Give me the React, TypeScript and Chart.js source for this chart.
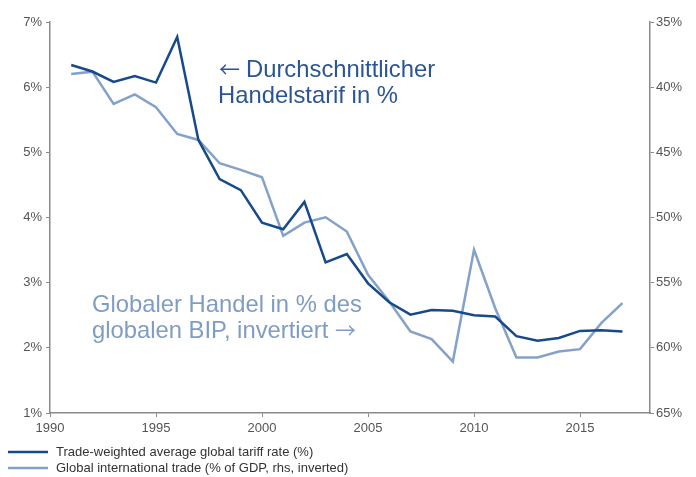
import React, { useEffect, useRef } from "react";
import { Chart, registerables } from "chart.js";

Chart.register(...registerables);

const years = [1991, 1992, 1993, 1994, 1995, 1996, 1997, 1998, 1999, 2000, 2001, 2002, 2003, 2004, 2005, 2006, 2007, 2008, 2009, 2010, 2011, 2012, 2013, 2014, 2015, 2016, 2017];
const tariffRate = [6.34, 6.24, 6.08, 6.17, 6.07, 6.77, 5.19, 4.59, 4.42, 3.92, 3.82, 4.24, 3.31, 3.44, 2.99, 2.7, 2.51, 2.58, 2.57, 2.5, 2.48, 2.18, 2.11, 2.15, 2.26, 2.27, 2.25];
const tradeShare = [38.99, 38.81, 41.29, 40.55, 41.54, 43.59, 44.05, 45.84, 46.35, 46.91, 51.41, 50.39, 49.98, 51.08, 54.4, 56.45, 58.75, 59.33, 61.05, 52.48, 56.96, 60.74, 60.74, 60.28, 60.1, 58.11, 56.57];
const seriesLabels = ["Trade-weighted average global tariff rate (%)", "Global international trade (% of GDP, rhs, inverted)"];
const tariffNote = ["Durchschnittlicher", "Handelstarif in %"];
const tradeNote = ["Globaler Handel in % des", "globalen BIP, invertiert"];
const LEFT_ARROW = "\u2190";
const RIGHT_ARROW = "\u2192";

const DARK = "#174a8b";
const LIGHT = "#84a2c9";
const DARK_TEXT = "#2b5592";
const LIGHT_TEXT = "#7f9cc5";
const FONT = "'Liberation Sans', Arial, sans-serif";
const ARROW_FONT = "'Noto Sans CJK SC', 'DejaVu Sans', sans-serif";

export default function App() {
  const ref = useRef<HTMLCanvasElement>(null);
  useEffect(() => {
    if (!ref.current) return;
    const overlay = {
      id: "overlay",
      beforeDatasetsDraw(chart: any) {
        const ctx = chart.ctx;
        ctx.save();
        ctx.textAlign = "left";
        ctx.textBaseline = "alphabetic";
        const main = `23.8px ${FONT}`;
        const arrowFont = `21px ${ARROW_FONT}`;
        // tariff note
        ctx.fillStyle = DARK_TEXT;
        ctx.font = arrowFont;
        ctx.fillText(LEFT_ARROW, 219, 77);
        ctx.font = main;
        ctx.fillText(tariffNote[0], 246, 77);
        ctx.fillText(tariffNote[1], 218, 103);
        // trade note
        ctx.fillStyle = LIGHT_TEXT;
        ctx.fillText(tradeNote[0], 92, 312);
        ctx.fillText(tradeNote[1], 92, 338);
        const w = ctx.measureText(tradeNote[1] + " ").width;
        ctx.font = arrowFont;
        ctx.fillText(RIGHT_ARROW, 92 + w, 338);
        ctx.restore();
      },
      afterDraw(chart: any) {
        const ctx = chart.ctx;
        ctx.save();
        ctx.font = `13px ${FONT}`;
        ctx.textBaseline = "middle";
        ctx.textAlign = "left";
        const rows = [
          { c: DARK, y: 452, t: seriesLabels[0] },
          { c: LIGHT, y: 468, t: seriesLabels[1] },
        ];
        for (const r of rows) {
          ctx.strokeStyle = r.c;
          ctx.lineWidth = 2.5;
          ctx.beginPath();
          ctx.moveTo(8, r.y);
          ctx.lineTo(48, r.y);
          ctx.stroke();
          ctx.fillStyle = "#333333";
          ctx.fillText(r.t, 56, r.y);
        }
        ctx.restore();
      },
    };
    const chart = new Chart(ref.current, {
      type: "line",
      data: {
        datasets: [
          {
            label: seriesLabels[0],
            data: years.map((y, i) => ({ x: y, y: tariffRate[i] })),
            borderColor: DARK,
            backgroundColor: DARK,
            borderWidth: 2.5,
            pointRadius: 0,
            tension: 0,
            yAxisID: "y",
          },
          {
            label: seriesLabels[1],
            data: years.map((y, i) => ({ x: y, y: tradeShare[i] })),
            borderColor: LIGHT,
            backgroundColor: LIGHT,
            borderWidth: 2.5,
            pointRadius: 0,
            tension: 0,
            yAxisID: "y2",
          },
        ],
      },
      options: {
        responsive: false,
        animation: false,
        layout: { padding: { top: 22, left: 0, right: 0, bottom: 0 } },
        plugins: { legend: { display: false }, tooltip: { enabled: false } },
        scales: {
          x: {
            type: "linear",
            min: 1990,
            max: 2018.3,
            afterFit: (s: any) => { s.height = 64; },
            border: { display: true, color: "#8a8a8a", width: 1.5 },
            grid: { drawOnChartArea: false, drawTicks: true, tickLength: 4, color: "#8a8a8a" },
            ticks: {
              stepSize: 5,
              includeBounds: false,
              maxRotation: 0,
              padding: 4,
              color: "#555555",
              font: { family: FONT, size: 13 },
              callback: (v: any) => String(v),
            },
          },
          y: {
            position: "left",
            min: 1,
            max: 7,
            afterFit: (s: any) => { s.width = 50; },
            border: { display: true, color: "#8a8a8a", width: 1.5 },
            grid: { drawOnChartArea: false, drawTicks: true, tickLength: 4, color: "#8a8a8a" },
            ticks: {
              stepSize: 1,
              padding: 4,
              color: "#555555",
              font: { family: FONT, size: 13 },
              callback: (v: any) => v + "%",
            },
          },
          y2: {
            position: "right",
            min: 35,
            max: 65,
            reverse: true,
            afterFit: (s: any) => { s.width = 46; },
            border: { display: true, color: "#8a8a8a", width: 1.5 },
            grid: { drawOnChartArea: false, drawTicks: true, tickLength: 4, color: "#8a8a8a" },
            ticks: {
              stepSize: 5,
              padding: 2,
              color: "#555555",
              font: { family: FONT, size: 13 },
              callback: (v: any) => v + "%",
            },
          },
        },
      },
      plugins: [overlay],
    } as any);
    return () => chart.destroy();
  }, []);
  return (
    <div style={{ position: "fixed", left: 0, top: 0, width: 696, height: 477, background: "#fff" }}>
      <canvas ref={ref} width={696} height={477} />
    </div>
  );
}
